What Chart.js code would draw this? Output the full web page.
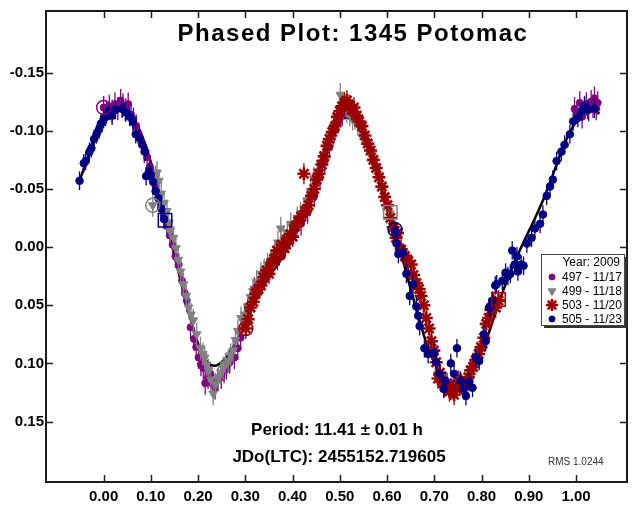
<!DOCTYPE html>
<html>
<head>
<meta charset="utf-8">
<script src="https://cdn.jsdelivr.net/npm/chart.js@4"></script>
<style>
  body { margin: 0; background: #fff; }
  canvas { display: block; }
</style>
</head>
<body>
<canvas id="phaseChart" width="638" height="508"></canvas>
<script>
// ---- data ----
const titleText = 'Phased Plot: 1345 Potomac';
const noteLines = ['Period: 11.41 \u00b1 0.01 h', 'JDo(LTC): 2455152.719605'];
const rmsText = 'RMS 1.0244';
const legendTitle = 'Year: 2009';
const sessionLabels = ['497 - 11/17', '499 - 11/18', '503 - 11/20', '505 - 11/23'];

const xTicks = [0, 0.1, 0.2, 0.3, 0.4, 0.5, 0.6, 0.7, 0.8, 0.9, 1.0];
const yTicks = [-0.15, -0.10, -0.05, 0, 0.05, 0.10, 0.15];

// error bar half-length (mag) per session
const errBars = [0.010, 0.010, 0.009, 0.008];

const s497 = [
  [0.000,-0.120],[0.006,-0.116],[0.012,-0.121],[0.018,-0.117],[0.024,-0.123],[0.030,-0.119],
  [0.036,-0.126],[0.041,-0.122],[0.047,-0.118],[0.052,-0.123],[0.058,-0.114],[0.063,-0.110],
  [0.069,-0.104],[0.074,-0.097],[0.080,-0.090],[0.086,-0.082],[0.092,-0.077],[0.098,-0.069],
  [0.104,-0.060],[0.110,-0.052],[0.116,-0.043],[0.122,-0.036],[0.128,-0.027],[0.134,-0.018],
  [0.140,-0.010],[0.146,-0.002],[0.152,0.008],[0.159,0.015],[0.166,0.029],[0.172,0.040],
  [0.176,0.046],[0.184,0.069],[0.191,0.079],[0.196,0.086],[0.201,0.095],[0.206,0.101],
  [0.211,0.104],[0.215,0.117],[0.221,0.112],[0.226,0.109],[0.231,0.118],[0.236,0.121],
  [0.242,0.114],[0.249,0.112],[0.255,0.107],[0.260,0.104],[0.267,0.099],[0.277,0.095],
  [0.284,0.087],[0.290,0.078],[0.305,0.055],[0.319,0.036],[0.336,0.030],[0.352,0.016],
  [0.368,0.010],[0.384,0.000],[0.402,-0.012],[0.418,-0.020],[0.432,-0.030],[0.446,-0.044],
  [0.458,-0.060],[0.468,-0.074],[0.478,-0.086],[0.488,-0.100],[0.497,-0.108],[0.505,-0.114],
  [0.997,-0.119],[1.003,-0.116],[1.008,-0.124],[1.013,-0.112],[1.018,-0.120],[1.022,-0.123],
  [1.027,-0.118],[1.032,-0.125],[1.036,-0.121],[1.039,-0.128],[1.043,-0.119],[1.046,-0.124]
];

const s499 = [
  [0.104,-0.036],[0.110,-0.060],[0.113,-0.064],[0.117,-0.057],[0.122,-0.046],[0.128,-0.038],
  [0.134,-0.031],[0.138,-0.021],[0.141,-0.014],[0.148,-0.008],[0.153,0.001],[0.158,0.011],
  [0.163,0.021],[0.169,0.032],[0.175,0.042],[0.180,0.052],[0.185,0.058],[0.190,0.063],
  [0.197,0.075],[0.205,0.087],[0.210,0.092],[0.214,0.095],[0.218,0.101],[0.222,0.106],
  [0.227,0.114],[0.232,0.126],[0.237,0.118],[0.243,0.112],[0.248,0.108],[0.253,0.104],
  [0.258,0.101],[0.264,0.098],[0.269,0.093],[0.274,0.089],[0.279,0.080],[0.284,0.072],
  [0.291,0.061],[0.298,0.058],[0.305,0.051],[0.311,0.043],[0.316,0.038],[0.324,0.030],
  [0.333,0.023],[0.340,0.020],[0.347,0.015],[0.354,0.012],[0.362,0.005],[0.369,-0.004],
  [0.375,-0.016],[0.382,-0.006],[0.389,-0.012],[0.396,-0.020],[0.403,-0.018],[0.410,-0.025],
  [0.417,-0.029],[0.424,-0.033],[0.431,-0.040],[0.438,-0.048],[0.445,-0.059],[0.452,-0.065],
  [0.459,-0.072],[0.466,-0.080],[0.473,-0.090],[0.480,-0.097],[0.487,-0.103],[0.494,-0.112],
  [0.501,-0.131],[0.508,-0.119],[0.515,-0.117],[0.521,-0.114],[0.527,-0.110],[0.532,-0.111],
  [0.538,-0.106],[0.543,-0.102],[0.548,-0.098],[0.551,-0.097],[0.557,-0.090],[0.564,-0.082],
  [0.568,-0.079],[0.572,-0.076],[0.578,-0.068],[0.585,-0.059],[0.590,-0.050],[0.596,-0.042],
  [0.601,-0.035],[0.606,-0.029]
];

const s503 = [
  [0.301,0.070],[0.306,0.062],[0.311,0.052],[0.317,0.047],[0.322,0.040],[0.328,0.036],
  [0.333,0.033],[0.339,0.026],[0.345,0.020],[0.350,0.023],[0.356,0.014],[0.361,0.010],
  [0.367,0.003],[0.372,0.007],[0.378,-0.002],[0.383,0.001],[0.389,-0.006],[0.395,-0.011],
  [0.400,-0.009],[0.406,-0.018],[0.412,-0.022],[0.418,-0.026],[0.424,-0.063],[0.428,-0.031],
  [0.434,-0.036],[0.440,-0.044],[0.446,-0.050],[0.451,-0.058],[0.456,-0.063],[0.462,-0.071],
  [0.467,-0.078],[0.473,-0.087],[0.478,-0.093],[0.484,-0.099],[0.490,-0.104],[0.495,-0.112],
  [0.500,-0.117],[0.505,-0.121],[0.510,-0.124],[0.515,-0.126],[0.520,-0.122],[0.525,-0.118],
  [0.530,-0.120],[0.536,-0.113],[0.541,-0.108],[0.547,-0.104],[0.553,-0.096],[0.559,-0.089],
  [0.565,-0.083],[0.571,-0.075],[0.577,-0.068],[0.583,-0.060],[0.589,-0.052],[0.595,-0.043],
  [0.601,-0.036],[0.607,-0.025],[0.613,-0.017],[0.619,-0.008],[0.622,-0.012],[0.630,0.002],
  [0.638,0.008],[0.645,0.012],[0.651,0.015],[0.656,0.024],[0.662,0.031],[0.668,0.036],
  [0.672,0.042],[0.678,0.050],[0.683,0.061],[0.689,0.070],[0.694,0.081],[0.699,0.089],
  [0.704,0.099],[0.708,0.113],[0.712,0.108],[0.717,0.116],[0.722,0.120],[0.727,0.117],
  [0.732,0.124],[0.737,0.122],[0.742,0.127],[0.747,0.121],[0.752,0.115],[0.757,0.118],
  [0.762,0.122],[0.767,0.118],[0.772,0.112],[0.777,0.106],[0.782,0.103],[0.788,0.097],
  [0.794,0.092],[0.799,0.086],[0.805,0.078],[0.810,0.066],[0.815,0.061],[0.820,0.054],
  [0.825,0.049],[0.830,0.052],[0.836,0.046]
];

const s505 = [
  [-0.051,-0.057],[-0.042,-0.072],[-0.038,-0.074],[-0.030,-0.082],[-0.026,-0.085],[-0.020,-0.093],
  [-0.015,-0.097],[-0.010,-0.101],[-0.006,-0.106],[0.000,-0.110],[0.004,-0.112],[0.012,-0.117],
  [0.018,-0.113],[0.025,-0.118],[0.039,-0.119],[0.046,-0.116],[0.055,-0.112],[0.062,-0.108],
  [0.068,-0.097],[0.075,-0.094],[0.082,-0.088],[0.088,-0.082],[0.090,-0.061],[0.096,-0.065],
  [0.100,-0.062],[0.105,-0.056],[0.110,-0.048],[0.116,-0.042],[0.122,-0.033],[0.128,-0.024],
  [0.617,-0.014],[0.620,-0.003],[0.624,0.006],[0.634,0.005],[0.641,0.023],[0.648,0.042],
  [0.655,0.032],[0.662,0.051],[0.666,0.059],[0.669,0.068],[0.679,0.087],[0.687,0.092],
  [0.700,0.091],[0.704,0.099],[0.711,0.109],[0.720,0.122],[0.723,0.115],[0.735,0.100],
  [0.742,0.109],[0.748,0.087],[0.756,0.115],[0.762,0.122],[0.767,0.128],[0.774,0.116],
  [0.781,0.121],[0.788,0.095],[0.795,0.098],[0.805,0.075],[0.809,0.081],[0.816,0.052],
  [0.819,0.051],[0.823,0.046],[0.829,0.033],[0.832,0.032],[0.844,0.029],[0.851,0.022],
  [0.856,0.025],[0.861,0.023],[0.865,0.003],[0.870,0.015],[0.875,0.008],[0.877,0.021],
  [0.884,0.015],[0.889,0.016],[0.896,-0.003],[0.906,-0.008],[0.913,-0.016],[0.924,-0.020],
  [0.930,-0.028],[0.938,-0.044],[0.945,-0.052],[0.951,-0.058],[0.959,-0.074],[0.969,-0.082],
  [0.976,-0.088],[0.987,-0.097],[0.994,-0.108],[1.004,-0.111],[1.012,-0.117],[1.018,-0.121],
  [1.025,-0.118],[1.039,-0.119]
];

// session start (circle) and end (square) markers: [phase, mag, session index]
const sessionStarts = [[0.000,-0.120,0],[0.104,-0.036,1],[0.301,0.070,2],[0.617,-0.015,3]];
const sessionEnds = [[0.607,-0.030,1],[0.836,0.045,2],[0.130,-0.023,3]];

// Fourier fit
const fitCurve = [
  [-0.05,-0.058],[-0.025,-0.086],[0.00,-0.106],[0.02,-0.115],[0.04,-0.117],[0.06,-0.112],
  [0.08,-0.097],[0.10,-0.073],[0.12,-0.043],[0.14,-0.010],[0.16,0.024],[0.18,0.056],
  [0.20,0.083],[0.22,0.099],[0.235,0.102],[0.25,0.099],[0.27,0.089],[0.29,0.073],
  [0.31,0.055],[0.33,0.040],[0.35,0.026],[0.37,0.014],[0.39,0.001],[0.41,-0.015],
  [0.43,-0.035],[0.45,-0.059],[0.47,-0.085],[0.49,-0.103],[0.51,-0.111],[0.53,-0.108],
  [0.55,-0.096],[0.57,-0.077],[0.59,-0.052],[0.61,-0.024],[0.63,0.006],[0.65,0.036],
  [0.67,0.065],[0.69,0.090],[0.71,0.107],[0.73,0.117],[0.75,0.119],[0.77,0.113],
  [0.79,0.099],[0.81,0.080],[0.83,0.056],[0.85,0.033],[0.87,0.013],[0.89,-0.005],
  [0.91,-0.022],[0.93,-0.040],[0.95,-0.061],[0.97,-0.083],[0.99,-0.101],[1.01,-0.113],
  [1.03,-0.117],[1.05,-0.115]
];

// ---- styles ----
const sessionColors = ['#800080', '#808080', '#9a0000', '#000080'];
const toXY = arr => arr.map(p => ({ x: p[0], y: p[1] }));

const errorBarPlugin = {
  id: 'errorBars',
  beforeDatasetDraw(chart, args) {
    const ds = chart.data.datasets[args.index];
    if (ds.errBar == null) return;
    const ctx = chart.ctx, y = chart.scales.y, area = chart.chartArea;
    ctx.save();
    ctx.beginPath();
    ctx.rect(area.left, area.top, area.width, area.height);
    ctx.clip();
    ctx.strokeStyle = ds.borderColor;
    ctx.lineWidth = 1.3;
    args.meta.data.forEach((pt, i) => {
      const v = ds.data[i].y;
      ctx.beginPath();
      ctx.moveTo(pt.x, y.getPixelForValue(v - ds.errBar));
      ctx.lineTo(pt.x, y.getPixelForValue(v + ds.errBar));
      ctx.stroke();
    });
    ctx.restore();
  }
};

const framePlugin = {
  id: 'frameAndText',
  afterDraw(chart) {
    const ctx = chart.ctx, a = chart.chartArea;
    const xs = chart.scales.x, ys = chart.scales.y;
    ctx.save();
    // frame
    ctx.strokeStyle = '#1a1a1a';
    ctx.lineWidth = 2;
    ctx.strokeRect(a.left, a.top, a.width, a.height);
    // inward tick marks on all four sides
    ctx.lineWidth = 1.5;
    ctx.beginPath();
    xTicks.forEach(v => {
      const px = Math.round(xs.getPixelForValue(v)) + 0.5;
      ctx.moveTo(px, a.bottom); ctx.lineTo(px, a.bottom - 7);
      ctx.moveTo(px, a.top); ctx.lineTo(px, a.top + 7);
    });
    yTicks.forEach(v => {
      const py = Math.round(ys.getPixelForValue(v)) + 0.5;
      ctx.moveTo(a.left, py); ctx.lineTo(a.left + 7, py);
      ctx.moveTo(a.right, py); ctx.lineTo(a.right - 7, py);
    });
    ctx.stroke();

    // title
    ctx.fillStyle = '#000';
    ctx.textAlign = 'center';
    ctx.textBaseline = 'middle';
    ctx.font = 'bold 24px "Liberation Sans", Arial, sans-serif';
    if ('letterSpacing' in ctx) ctx.letterSpacing = '1.5px';
    ctx.fillText(titleText, 353, 34);
    if ('letterSpacing' in ctx) ctx.letterSpacing = '0px';

    // period / epoch
    ctx.font = 'bold 17px "Liberation Sans", Arial, sans-serif';
    ctx.fillText(noteLines[0], 337, 430);
    ctx.fillText(noteLines[1], 339, 457);

    // rms
    ctx.font = '10px "Liberation Sans", Arial, sans-serif';
    ctx.fillStyle = '#333';
    ctx.textAlign = 'left';
    ctx.fillText(rmsText, 548, 462);

    // legend box with shadow
    const lx = 541, ly = 254, lw = 83, lh = 71;
    ctx.fillStyle = '#333';
    ctx.fillRect(lx + 3, ly + 3, lw, lh);
    ctx.fillStyle = '#fff';
    ctx.fillRect(lx, ly, lw, lh);
    ctx.strokeStyle = '#444';
    ctx.lineWidth = 1;
    ctx.strokeRect(lx + 0.5, ly + 0.5, lw, lh);

    ctx.fillStyle = '#000';
    ctx.font = '12px "Liberation Sans", Arial, sans-serif';
    ctx.textAlign = 'right';
    ctx.fillText(legendTitle, 620, 263);
    ctx.textAlign = 'left';
    chart.data.datasets.forEach(ds => {
      if (ds.legendRow == null) return;
      const ry = 277 + ds.legendRow * 14;
      ctx.fillStyle = ds.backgroundColor;
      ctx.strokeStyle = ds.borderColor;
      ctx.lineWidth = ds.pointStyle === 'star' ? 2.5 : 1;
      Chart.helpers.drawPoint(ctx, {
        pointStyle: ds.pointStyle,
        rotation: ds.rotation || 0,
        radius: ds.legendRadius,
        borderWidth: ctx.lineWidth
      }, 552, ry);
      ctx.fillStyle = '#000';
      ctx.fillText(ds.label, 562, ry + 0.5);
    });
    ctx.restore();
  }
};

function sessionSet(i, data, style, radius, legendRadius, extra) {
  return Object.assign({
    type: 'scatter',
    label: sessionLabels[i],
    data: toXY(data),
    backgroundColor: sessionColors[i],
    borderColor: sessionColors[i],
    pointStyle: style,
    pointRadius: radius,
    pointBorderWidth: 1,
    errBar: errBars[i],
    legendRow: i,
    legendRadius: legendRadius,
    order: 4 - i
  }, extra || {});
}

const ctx = document.getElementById('phaseChart').getContext('2d');
new Chart(ctx, {
  type: 'scatter',
  data: {
    datasets: [
      {
        type: 'scatter',
        label: 'start',
        data: sessionStarts.map(p => ({ x: p[0], y: p[1] })),
        pointStyle: 'circle',
        pointRadius: 7,
        pointBorderWidth: 1.5,
        backgroundColor: 'rgba(0,0,0,0)',
        borderColor: sessionStarts.map(p => sessionColors[p[2]]),
        order: 0
      },
      {
        type: 'scatter',
        label: 'end',
        data: sessionEnds.map(p => ({ x: p[0], y: p[1] })),
        pointStyle: 'rect',
        pointRadius: 9.5,
        pointBorderWidth: 1.5,
        backgroundColor: 'rgba(0,0,0,0)',
        borderColor: sessionEnds.map(p => sessionColors[p[2]]),
        order: 0
      },
      sessionSet(0, s497, 'circle', 3.5, 3),
      sessionSet(1, s499, 'triangle', 5, 4.5, { rotation: 180 }),
      sessionSet(2, s503, 'star', 6.5, 6, { pointBorderWidth: 2.6 }),
      sessionSet(3, s505, 'circle', 3.8, 3),
      {
        type: 'line',
        label: 'fit',
        data: toXY(fitCurve),
        borderColor: '#000',
        borderWidth: 2.5,
        pointRadius: 0,
        tension: 0.35,
        fill: false,
        order: 10
      }
    ]
  },
  options: {
    responsive: false,
    animation: false,
    events: [],
    layout: { padding: { top: 9, right: 5, left: 0, bottom: 0 } },
    plugins: {
      legend: { display: false },
      tooltip: { enabled: false },
      title: { display: false }
    },
    scales: {
      x: {
        type: 'linear',
        position: 'bottom',
        min: -0.122,
        max: 1.108,
        afterBuildTicks: s => { s.ticks = xTicks.map(v => ({ value: v })); },
        afterFit: s => { s.height = 26; },
        grid: { display: false, drawTicks: false },
        border: { display: false },
        ticks: {
          padding: 6,
          color: '#000',
          font: { family: '"Liberation Sans", Arial, sans-serif', size: 15, weight: 'bold' },
          callback: v => v.toFixed(2)
        }
      },
      y: {
        type: 'linear',
        position: 'left',
        reverse: true,
        min: -0.203,
        max: 0.202,
        afterBuildTicks: s => { s.ticks = yTicks.map(v => ({ value: v })); },
        afterFit: s => { s.width = 46; },
        grid: { display: false, drawTicks: false },
        border: { display: false },
        ticks: {
          padding: 2,
          color: '#000',
          font: { family: '"Liberation Sans", Arial, sans-serif', size: 15, weight: 'bold' },
          callback: v => v.toFixed(2)
        }
      }
    }
  },
  plugins: [errorBarPlugin, framePlugin]
});
</script>
</body>
</html>
